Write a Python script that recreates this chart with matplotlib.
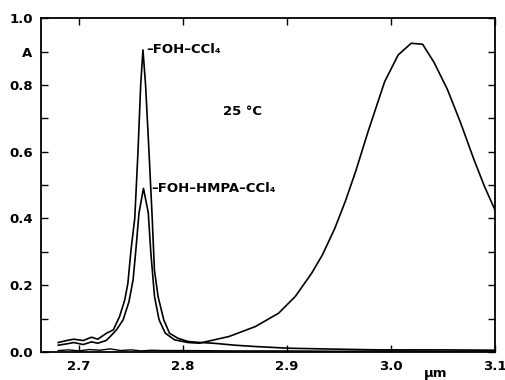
import matplotlib.pyplot as plt
from matplotlib.ticker import MultipleLocator

# FOH in CCl4 (free OH band only)
ccl4_x = [2.680, 2.688, 2.695, 2.704, 2.712, 2.718, 2.7265, 2.733, 2.739, 2.744, 2.747, 2.750,
          2.7536, 2.7567, 2.7593, 2.7615, 2.764, 2.7673, 2.7704, 2.7725, 2.776, 2.7815, 2.787,
          2.795, 2.805, 2.817, 2.829, 2.850, 2.870, 2.901, 2.950, 2.988, 3.050, 3.100]
ccl4_y = [0.028, 0.034, 0.038, 0.034, 0.044, 0.038, 0.056, 0.066, 0.106, 0.156, 0.206, 0.306,
          0.400, 0.600, 0.800, 0.905, 0.800, 0.600, 0.400, 0.246, 0.166, 0.096, 0.056,
          0.041, 0.031, 0.028, 0.026, 0.020, 0.016, 0.011, 0.008, 0.006, 0.006, 0.005]

# FOH + HMPA in CCl4 (free OH + bonded OH band)
hmpa_x = [2.680, 2.688, 2.695, 2.704, 2.712, 2.718, 2.726, 2.730, 2.736, 2.7424, 2.748, 2.752,
          2.7545, 2.7577, 2.762, 2.7666, 2.769, 2.7726, 2.777, 2.783, 2.792, 2.805, 2.8156,
          2.8442, 2.8697, 2.892, 2.908, 2.9238, 2.934, 2.946, 2.956, 2.966, 2.978, 2.994,
          3.007, 3.0195, 3.0305, 3.0416, 3.0543, 3.067, 3.0798, 3.090, 3.100]
hmpa_y = [0.020, 0.024, 0.028, 0.022, 0.030, 0.026, 0.034, 0.046, 0.066, 0.096, 0.150, 0.216,
          0.300, 0.417, 0.490, 0.417, 0.300, 0.166, 0.096, 0.056, 0.036, 0.028, 0.026,
          0.046, 0.076, 0.116, 0.166, 0.236, 0.290, 0.370, 0.450, 0.540, 0.660, 0.810,
          0.890, 0.925, 0.922, 0.867, 0.787, 0.687, 0.577, 0.496, 0.426]

# solvent baseline
base_x = [2.680, 2.690, 2.700, 2.710, 2.720, 2.730, 2.740, 2.750, 2.760, 2.770, 2.780,
          2.800, 2.850, 2.900, 2.950, 3.000, 3.050, 3.100]
base_y = [0.004, 0.006, 0.003, 0.007, 0.005, 0.009, 0.004, 0.006, 0.003, 0.005, 0.004,
          0.004, 0.003, 0.003, 0.002, 0.003, 0.002, 0.003]

plt.rcParams['font.family'] = 'DejaVu Sans'
plt.rcParams['font.weight'] = 'bold'

fig = plt.figure(figsize=(5.06, 3.80), dpi=100)
ax = fig.add_axes([0.081, 0.074, 0.897, 0.878])

ax.plot(ccl4_x, ccl4_y, color='black', lw=1.2)
ax.plot(hmpa_x, hmpa_y, color='black', lw=1.2)
ax.plot(base_x, base_y, color='black', lw=1.0)

ax.set_xlim(2.6634, 3.1)
ax.set_ylim(0, 1.0)

ax.set_xticks([2.7, 2.8, 2.9, 3.0, 3.1])
ax.set_xticklabels(['2.7', '2.8', '2.9', '3.0', '3.1'])
ax.set_yticks([0.0, 0.2, 0.4, 0.6, 0.8, 0.9, 1.0])
ax.set_yticklabels(['0.0', '0.2', '0.4', '0.6', '0.8', 'A', '1.0'])
ax.yaxis.set_minor_locator(MultipleLocator(0.1))
ax.tick_params(which='both', direction='in', length=5, width=1.0, top=True, right=True,
               labelsize=9.5, pad=6)
for lab in ax.get_xticklabels() + ax.get_yticklabels():
    lab.set_fontweight('bold')
for s in ax.spines.values():
    s.set_linewidth(1.3)

ax.text(3.043, -0.065, 'µm', ha='center', va='center', fontsize=9.5, fontweight='bold')
ax.text(2.7645, 0.905, '–FOH–CCl₄', ha='left', va='center', fontsize=9.5, fontweight='bold')
ax.text(2.7695, 0.49, '–FOH–HMPA–CCl₄', ha='left', va='center', fontsize=9.5, fontweight='bold')
ax.text(2.857, 0.72, '25 °C', ha='center', va='center', fontsize=9.5, fontweight='bold')

fig.savefig('out.png', dpi=100)
